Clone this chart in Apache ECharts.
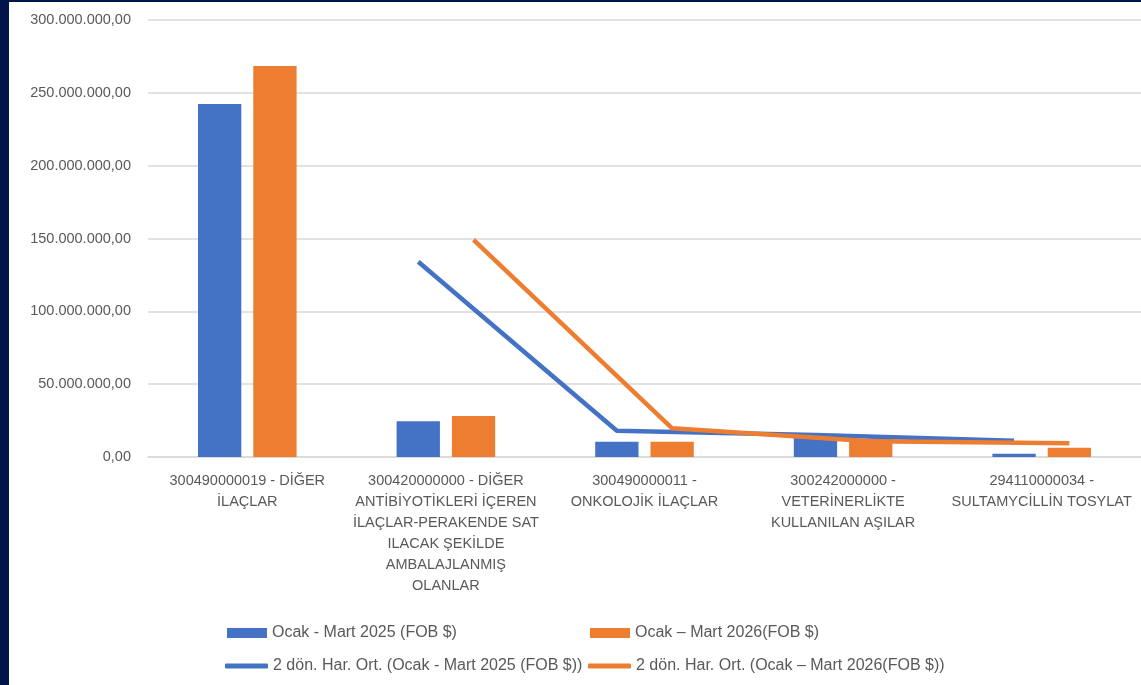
<!DOCTYPE html>
<html>
<head>
<meta charset="utf-8">
<script src="https://cdn.jsdelivr.net/npm/echarts@6/dist/echarts.min.js"></script>
<style>
  html, body { margin: 0; padding: 0; width: 1141px; height: 685px; background: #02154a; overflow: hidden; }
  #chart { position: absolute; left: 9px; top: 2px; width: 1132px; height: 683px; background: #ffffff; }
</style>
</head>
<body>
<div id="chart"></div>
<script>
const categories = [
  "300490000019 - DİĞER\nİLAÇLAR",
  "300420000000 - DİĞER\nANTİBİYOTİKLERİ İÇEREN\nİLAÇLAR-PERAKENDE SAT\nILACAK ŞEKİLDE\nAMBALAJLANMIŞ\nOLANLAR",
  "300490000011 -\nONKOLOJİK İLAÇLAR",
  "300242000000 -\nVETERİNERLİKTE\nKULLANILAN AŞILAR",
  "294110000034 -\nSULTAMYCİLLİN TOSYLAT"
];
const seriesNames = [
  "Ocak - Mart 2025 (FOB $)",
  "Ocak – Mart 2026(FOB $)",
  "2 dön. Har. Ort. (Ocak - Mart 2025 (FOB $))",
  "2 dön. Har. Ort. (Ocak – Mart 2026(FOB $))"
];
const val2025 = [242300000, 24500000, 10400000, 14500000, 2300000];
const val2026 = [268500000, 28100000, 10400000, 12400000, 6400000];
const ma2025 = [null, 134000000, 18000000, 15100000, 11200000];
const ma2026 = [null, 149000000, 19700000, 10800000, 9400000];

const BLUE = '#4472C4', ORANGE = '#ED7D31', TXT = '#595959', GRID = '#d9d9d9';
const FONT = 'Liberation Sans';
const BAR_W = 0.218, BAR_GAP = 0.277;
const off = BAR_W * (1 + BAR_GAP) / 2;

function fmtTR(v) {
  const s = Math.round(v).toString();
  let out = '';
  for (let i = 0; i < s.length; i++) {
    if (i > 0 && (s.length - i) % 3 === 0) out += '.';
    out += s[i];
  }
  return out + ',00';
}
function linePts(arr, shift) {
  const pts = [];
  arr.forEach((v, i) => { if (v !== null) pts.push([i + shift, v]); });
  return pts;
}

const chart = echarts.init(document.getElementById('chart'));
function legendAt(name, left, top, icon, w, h) {
  return {
    data: [{ name: name, icon: icon }],
    left: left, top: top, padding: 0,
    itemWidth: w, itemHeight: h, itemGap: 0,
    textStyle: { color: TXT, fontFamily: FONT, fontSize: 16 },
    selectedMode: false
  };
}
chart.setOption({
  animation: false,
  backgroundColor: '#ffffff',
  grid: { left: 139, right: 0, top: 18, bottom: 228, containLabel: false },
  legend: [
    legendAt(seriesNames[0], 218, 623, 'rect', 40, 10),
    legendAt(seriesNames[1], 581, 623, 'rect', 40, 10),
    legendAt(seriesNames[2], 216, 656, 'roundRect', 43, 5),
    legendAt(seriesNames[3], 579, 656, 'roundRect', 43, 5)
  ],
  xAxis: [
    {
      type: 'category',
      data: categories,
      axisLine: { show: true, lineStyle: { color: GRID, width: 1.5 } },
      axisTick: { show: false },
      axisLabel: {
        interval: 0, color: TXT, fontFamily: FONT, fontSize: 14.5,
        lineHeight: 21, margin: 13, align: 'center'
      }
    },
    { type: 'value', min: -0.5, max: 4.5, show: false }
  ],
  yAxis: {
    type: 'value', min: 0, max: 300000000, interval: 50000000,
    axisLine: { show: false }, axisTick: { show: false },
    splitLine: { lineStyle: { color: GRID, width: 1.5 } },
    axisLabel: { color: TXT, fontFamily: FONT, fontSize: 14.5, margin: 17, formatter: fmtTR }
  },
  series: [
    {
      name: seriesNames[0], type: 'bar', data: val2025,
      barWidth: (BAR_W * 100) + '%', barGap: (BAR_GAP * 100) + '%',
      itemStyle: { color: BLUE }
    },
    {
      name: seriesNames[1], type: 'bar', data: val2026,
      barWidth: (BAR_W * 100) + '%', barGap: (BAR_GAP * 100) + '%',
      itemStyle: { color: ORANGE }
    },
    {
      name: seriesNames[2], type: 'line', xAxisIndex: 1, data: linePts(ma2025, -off),
      symbol: 'none', lineStyle: { color: BLUE, width: 4.5 }, itemStyle: { color: BLUE }, z: 5
    },
    {
      name: seriesNames[3], type: 'line', xAxisIndex: 1, data: linePts(ma2026, off),
      symbol: 'none', lineStyle: { color: ORANGE, width: 4.5 }, itemStyle: { color: ORANGE }, z: 6
    }
  ]
});
</script>
</body>
</html>
